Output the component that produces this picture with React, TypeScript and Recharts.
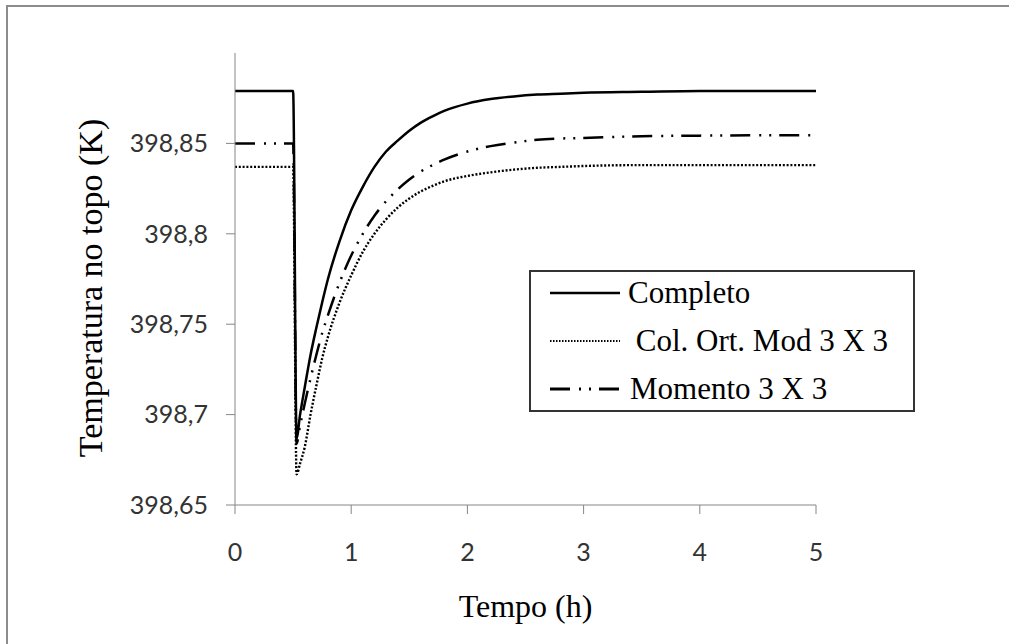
import { LineChart, Line, XAxis, YAxis, Legend } from "recharts";

// Temperatura no topo (K) vs Tempo (h)
const tempo = [0, 0.5, 0.53, 0.56, 0.6, 0.65, 0.7, 0.75, 0.8, 0.9, 1.0, 1.1, 1.2, 1.3, 1.4, 1.5, 1.6, 1.7, 1.8, 2.0, 2.2, 2.4, 2.6, 2.8, 3.0, 3.5, 4.0, 4.5, 5.0];
const completo = [398.879, 398.879, 398.687, 398.7, 398.715, 398.733, 398.748, 398.762, 398.775, 398.796, 398.813, 398.826, 398.837, 398.8455, 398.8515, 398.857, 398.8615, 398.865, 398.868, 398.872, 398.8745, 398.876, 398.877, 398.8775, 398.878, 398.8785, 398.879, 398.879, 398.879];
const colOrtMod = [398.837, 398.837, 398.667, 398.673, 398.682, 398.7, 398.716, 398.731, 398.743, 398.762, 398.777, 398.79, 398.8, 398.808, 398.8145, 398.8195, 398.8235, 398.8265, 398.829, 398.832, 398.834, 398.8355, 398.8365, 398.837, 398.8375, 398.838, 398.838, 398.838, 398.838];
const momento = [398.85, 398.85, 398.684, 398.694, 398.706, 398.72, 398.733, 398.745, 398.755, 398.773, 398.788, 398.8, 398.81, 398.818, 398.8245, 398.83, 398.8345, 398.838, 398.841, 398.8455, 398.8485, 398.8505, 398.852, 398.8527, 398.853, 398.854, 398.8543, 398.8545, 398.8545];

const xTicks = [0, 1, 2, 3, 4, 5];
const yTicks = [398.65, 398.7, 398.75, 398.8, 398.85];
const seriesKeys = ["completo", "colOrt", "momento"];
const seriesNames = ["Completo", " Col. Ort. Mod 3 X 3", "Momento 3 X 3"];

const data = tempo.map((t, i) => ({
  t,
  completo: completo[i],
  colOrt: colOrtMod[i],
  momento: momento[i],
}));

const SERIF = '"Liberation Serif", "Times New Roman", serif';
const SANS = 'Lato, "Noto Sans", sans-serif';
const AXIS = "#868686";

const styles: Record<string, { width: number; dash?: string; legendWidth: number; legendDash?: string }> = {
  completo: { width: 2.5, legendWidth: 2.5 },
  colOrt: { width: 2.4, dash: "2 1.8", legendWidth: 2, legendDash: "1.5 1.5" },
  momento: { width: 2.5, dash: "20 9 2 8 2 8", legendWidth: 3, legendDash: "20 9 2 8 2 8" },
};

function YTitle(props: any) {
  const vb = props.viewBox || { x: 0, y: 53, width: 235, height: 452 };
  const x = vb.x + 90;
  const y = vb.y + vb.height / 2 + 9;
  return (
    <text
      x={x}
      y={y}
      transform={`rotate(-90, ${x}, ${y})`}
      textAnchor="middle"
      dominantBaseline="central"
      style={{ fontFamily: SERIF, fontSize: 34, fill: "#000" }}
    >
      Temperatura no topo (K)
    </text>
  );
}

function BoxLegend() {
  return (
    <div
      style={{
        position: "relative",
        width: 386,
        height: 142,
        border: "2px solid #333",
        boxSizing: "border-box",
        background: "#fff",
        fontFamily: SERIF,
        fontSize: 31,
        color: "#000",
      }}
    >
      {seriesKeys.map((k, i) => (
        <div
          key={k}
          style={{
            position: "absolute",
            left: 19,
            top: 1 + i * 48,
            height: 40,
            display: "flex",
            alignItems: "center",
            whiteSpace: "pre",
          }}
        >
          <svg width={70} height={10} style={{ display: "block" }}>
            <line
              x1={0}
              x2={70}
              y1={5}
              y2={5}
              stroke="#000"
              strokeWidth={styles[k].legendWidth}
              strokeDasharray={styles[k].legendDash}
            />
          </svg>
          <span style={{ marginLeft: i === 2 ? 10 : 8, lineHeight: "40px" }}>{seriesNames[i]}</span>
        </div>
      ))}
    </div>
  );
}

export default function App() {
  return (
    <div style={{ position: "absolute", left: 0, top: 0, width: 1009, height: 644, background: "#fff", overflow: "hidden" }}>
      <div style={{ position: "absolute", left: 6, top: 5, width: 1003, height: 2, background: "#8c8c8c" }} />
      <div style={{ position: "absolute", left: 6, top: 5, width: 2, height: 639, background: "#8c8c8c" }} />
      <div style={{ position: "absolute", left: 0, top: 0 }}>
        <LineChart width={1009} height={644} data={data} margin={{ top: 53, right: 193, bottom: 0, left: 0 }}>
          <XAxis
            dataKey="t"
            type="number"
            domain={[0, 5]}
            ticks={xTicks}
            height={139}
            stroke={AXIS}
            tickSize={9}
            tickMargin={29}
            tick={{ fontFamily: SANS, fontSize: 25, fill: "#333" }}
            tickLine={{ stroke: AXIS }}
            label={{
              value: "Tempo (h)",
              position: "insideBottom",
              offset: 27,
              style: { fontFamily: SERIF, fontSize: 32, fill: "#000" },
            }}
          />
          <YAxis
            type="number"
            domain={[398.65, 398.9]}
            ticks={yTicks}
            width={235}
            stroke={AXIS}
            tickSize={9}
            tickMargin={18}
            tickFormatter={(v: number) => String(v).replace(".", ",")}
            tick={{ fontFamily: SANS, fontSize: 25, fill: "#333" }}
            tickLine={{ stroke: AXIS }}
            label={<YTitle />}
          />
          <Legend
            layout="vertical"
            align="center"
            verticalAlign="middle"
            content={<BoxLegend />}
            wrapperStyle={{ left: 529, top: 270, width: 386, height: 142 }}
          />
          {seriesKeys.map((k, i) => (
            <Line
              key={k}
              dataKey={k}
              name={seriesNames[i]}
              type="monotone"
              stroke="#000"
              strokeWidth={styles[k].width}
              strokeDasharray={styles[k].dash}
              dot={false}
              activeDot={false}
              isAnimationActive={false}
            />
          ))}
        </LineChart>
      </div>
    </div>
  );
}
